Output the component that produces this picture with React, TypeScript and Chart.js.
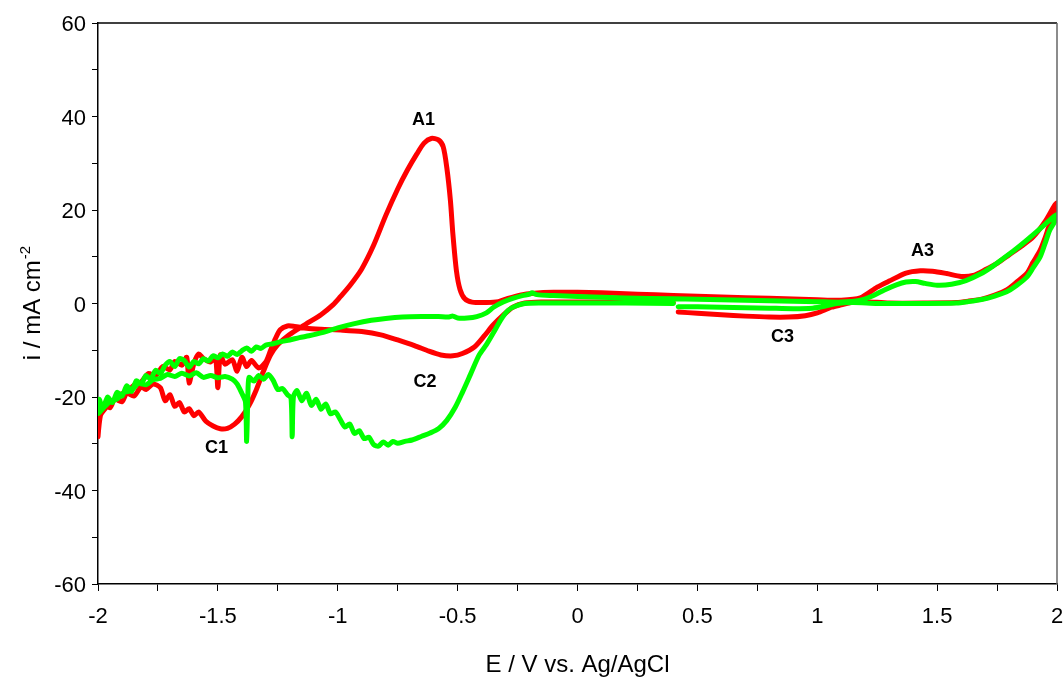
import React, { useEffect, useRef } from "react";
import { Chart, registerables } from "chart.js";

Chart.register(...registerables);

// Cyclic voltammograms: potential E (V vs. Ag/AgCl) and current density i (mA cm^-2),
// listed in scan order starting at 0.4 V and sweeping negative first.
const redE = [
  0.40, 0.2, 0.0, -0.15, -0.22, -0.27, -0.31, -0.35, -0.39, -0.43, -0.48, -0.52, -0.57, -0.62, -0.68,
  -0.75, -0.82, -0.9, -0.98, -1.07, -1.13, -1.18, -1.21, -1.24, -1.26, -1.28, -1.30, -1.33, -1.36,
  -1.38, -1.40, -1.42, -1.44, -1.47, -1.49, -1.50, -1.51, -1.53, -1.56, -1.58, -1.60, -1.62, -1.63,
  -1.65, -1.68, -1.70, -1.73, -1.76, -1.79, -1.82, -1.85, -1.88, -1.91, -1.94, -1.97, -1.99, -2.0,
  -1.99, -1.97, -1.95, -1.93, -1.9, -1.88, -1.85, -1.82, -1.8, -1.77, -1.74, -1.72, -1.7, -1.68,
  -1.66, -1.64, -1.62, -1.6, -1.58, -1.55, -1.52, -1.49, -1.46, -1.43, -1.40, -1.37, -1.34, -1.31,
  -1.28, -1.25, -1.21, -1.17, -1.12, -1.07, -1.02, -0.99, -0.95, -0.9, -0.85, -0.8, -0.75, -0.71,
  -0.67, -0.64, -0.61, -0.58, -0.56, -0.545, -0.53, -0.52, -0.505, -0.49, -0.47, -0.44, -0.38, -0.33,
  -0.29, -0.24, -0.18, -0.1, 0.0, 0.1, 0.25, 0.4, 0.6, 0.8, 1.0, 1.1, 1.18, 1.25, 1.3, 1.37, 1.43,
  1.48, 1.54, 1.6, 1.65, 1.7, 1.75, 1.8, 1.85, 1.9, 1.95, 1.99, 2.0,
  1.99, 1.97, 1.95, 1.93, 1.9, 1.875, 1.83, 1.79, 1.74, 1.69, 1.63, 1.58, 1.45, 1.3, 1.2, 1.15, 1.1,
  1.06, 1.0, 0.95, 0.88, 0.8, 0.7, 0.6, 0.5, 0.42,
];
const redI = [
  0.2, 0.3, 0.3, 0.3, 0.1, -0.8, -2.5, -4.5, -7, -9.3, -10.7, -11.2, -11, -10.2, -9,
  -7.8, -6.7, -6, -5.7, -5.5, -5.3, -4.9, -4.8, -5.6, -7.5, -10, -12.5, -13.8, -12.2,
  -13.5, -11.5, -14.5, -12, -13, -11, -18, -11.5, -12.5, -11.8, -10.8, -12.8, -17, -11.5,
  -13.2, -12.4, -14.2, -13.5, -15.5, -15, -16.8, -17.5, -19, -19.5, -21, -22.5, -24, -28.5,
  -24, -21.5, -22.3, -20.5, -21, -19.2, -19.8, -17.8, -18.4, -17.2, -18, -20.8, -19.5, -22,
  -21.2, -23.2, -22.5, -24, -23.2, -25.2, -26.2, -26.8, -26.7, -25.8, -24.2, -21.8, -18.5, -14.5,
  -11, -8.8, -7, -5.6, -4, -2.4, -0.3, 1.4, 3.8, 7.4, 12.5, 18.8, 24.5, 28.5,
  32, 34.3, 35.3, 35, 33.5, 29, 22, 15, 7, 3, 1, 0.3, 0.2, 0.4,
  1.1, 1.8, 2.2, 2.4, 2.4, 2.3, 2.0, 1.7, 1.4, 1.1, 0.8, 0.7, 1.2, 3.5, 4.8, 6.5, 7.0,
  6.9, 6.4, 5.8, 6.0, 7.2, 8.6, 10.4, 12.2, 14.2, 17.5, 21, 21.5,
  19, 17, 14, 11.4, 8.8, 6.5, 4.5, 2.9, 1.8, 1.0, 0.5, 0.2, 0.1, 0.1, 0.4, 0.3, -0.3,
  -0.8, -2.0, -2.6, -2.9, -2.9, -2.7, -2.4, -2.1, -1.8,
];

const greenE = [
  0.40, 0.2, 0.0, -0.15, -0.22, -0.26, -0.29, -0.32, -0.35, -0.38, -0.41, -0.445, -0.48, -0.51,
  -0.545, -0.58, -0.615, -0.65, -0.69, -0.72, -0.75, -0.77, -0.79, -0.81, -0.83, -0.85, -0.87,
  -0.89, -0.91, -0.93, -0.95, -0.97, -0.99, -1.01, -1.03, -1.05, -1.07, -1.09, -1.11, -1.13, -1.15,
  -1.17, -1.185, -1.19, -1.195, -1.21, -1.23, -1.25, -1.27, -1.29, -1.31, -1.33, -1.35, -1.37,
  -1.375, -1.38, -1.385, -1.40, -1.42, -1.44, -1.47, -1.50, -1.53, -1.56, -1.59, -1.62, -1.65,
  -1.68, -1.71, -1.74, -1.77, -1.8, -1.83, -1.86, -1.89, -1.92, -1.95, -1.98, -2.0,
  -1.995, -1.98, -1.96, -1.94, -1.92, -1.9, -1.88, -1.86, -1.84, -1.82, -1.8, -1.78, -1.76, -1.74,
  -1.72, -1.7, -1.68, -1.66, -1.64, -1.62, -1.6, -1.58, -1.56, -1.54, -1.52, -1.5, -1.48, -1.46,
  -1.44, -1.42, -1.4, -1.38, -1.36, -1.34, -1.32, -1.3, -1.27, -1.24, -1.2, -1.16, -1.12, -1.07,
  -1.0, -0.93, -0.86, -0.8, -0.73, -0.65, -0.58, -0.54, -0.52, -0.5, -0.46, -0.42, -0.38, -0.35,
  -0.31, -0.27, -0.23, -0.2, -0.19, -0.17, -0.1, 0.0, 0.2, 0.4, 0.6, 0.8, 1.0, 1.1, 1.18, 1.23,
  1.28, 1.33, 1.37, 1.41, 1.45, 1.5, 1.56, 1.62, 1.68, 1.73, 1.78, 1.83, 1.88, 1.93, 1.98, 2.0,
  1.99, 1.97, 1.95, 1.93, 1.9, 1.875, 1.83, 1.79, 1.74, 1.69, 1.63, 1.58, 1.4, 1.25, 1.15, 1.08,
  1.03, 0.98, 0.9, 0.8, 0.7, 0.6, 0.5, 0.42,
];
const greenI = [
  0.0, 0.1, 0.1, 0.1, 0.0, -0.6, -1.5, -3.5, -6.2, -8.8, -11, -15, -19, -22.2,
  -25, -26.8, -27.7, -28.4, -29.2, -29.5, -29.9, -29.5, -30.3, -29.6, -30.5, -30.2, -28.6,
  -28.9, -27.2, -27.8, -25.8, -26.4, -24.8, -23.2, -23.6, -21.5, -22.6, -20.5, -21.8, -19.2, -20.8,
  -18.6, -20, -28.5, -20.2, -19.5, -18.2, -18.4, -16.4, -15.2, -16.2, -15.4, -16.6, -15.8,
  -20, -29.5, -21, -19.2, -17.2, -16.2, -15.6, -15.9, -15.4, -15.8, -14.8, -15.5, -14.9,
  -15.6, -15.2, -16, -16.3, -17.4, -17, -18.6, -19, -20.4, -21, -22.5, -23.5,
  -20.5, -22.5, -20, -21.2, -19, -19.8, -17.6, -18.8, -16.5, -17.2, -15.4, -16.2, -14.3, -15,
  -13.2, -12.4, -13.5, -11.8, -12.2, -13.6, -12.4, -12.9, -11.8, -12.3, -11.2, -11.6, -10.8, -11.3,
  -10.4, -10.9, -10.1, -9.5, -10.2, -9.3, -9.6, -8.9, -8.6, -8.2, -7.8, -7.3, -6.9, -6.3,
  -5.2, -4.3, -3.6, -3.2, -2.9, -2.8, -2.8, -2.9, -2.7, -3.1, -3.1, -2.8, -2.0, -0.8,
  0.3, 1.1, 1.7, 2.0, 2.3, 1.9, 1.7, 1.5, 1.2, 1.0, 0.8, 0.6, 0.4, 0.3, 0.7, 1.6,
  2.9, 4.0, 4.6, 4.7, 4.3, 3.9, 4.1, 4.9, 6.3, 7.9, 9.8, 11.7, 13.8, 16, 18.3, 19,
  17.5, 15.7, 12.8, 10, 7.6, 5.7, 3.8, 2.5, 1.6, 0.9, 0.4, 0.1, 0.0, 0.0, 0.2, 0.0,
  -0.6, -1.0, -1.1, -1.0, -0.9, -0.8, -0.7, -0.7,
];

const xTicks = [-2, -1.5, -1, -0.5, 0, 0.5, 1, 1.5, 2];
const yTicks = [-60, -40, -20, 0, 20, 40, 60];

const peakNames = ["A1", "C1", "C2", "A3", "C3"];
const peakNameE = [-0.642, -1.506, -0.636, 1.439, 0.855];
const peakNameI = [39.3, -31.0, -16.7, 11.2, -7.1];

const xTitle = "E / V vs. Ag/AgCl";
const yTitleMain = "i / mA cm";
const yTitleSup = "-2";

const FONT = '"Liberation Sans", Arial, Helvetica, sans-serif';

const toPoints = (xs: number[], ys: number[]) => xs.map((x, k) => ({ x, y: ys[k] }));

const decorations = {
  id: "cvDecorations",
  afterDraw(chart: any) {
    const { ctx, chartArea: a } = chart;
    const xs = chart.scales.x;
    const ys = chart.scales.y;
    ctx.save();

    // frame: top edge and right edge of the plot box
    ctx.lineWidth = 1.5;
    ctx.strokeStyle = "#000";
    ctx.beginPath();
    ctx.moveTo(a.left, a.top);
    ctx.lineTo(a.right, a.top);
    ctx.stroke();
    ctx.strokeStyle = "#666";
    ctx.beginPath();
    ctx.moveTo(a.right, a.top);
    ctx.lineTo(a.right, a.bottom);
    ctx.stroke();

    ctx.fillStyle = "#000";
    ctx.font = `22px ${FONT}`;

    // x tick labels
    ctx.textAlign = "center";
    ctx.textBaseline = "alphabetic";
    xTicks.forEach((v) => {
      ctx.fillText(String(v), xs.getPixelForValue(v), 623);
    });

    // y tick labels
    ctx.textAlign = "right";
    yTicks.forEach((v) => {
      ctx.fillText(String(v), 86, ys.getPixelForValue(v) + 8);
    });

    // x title
    ctx.font = `24px ${FONT}`;
    ctx.textAlign = "center";
    ctx.fillText(xTitle, (a.left + a.right) / 2, 672);

    // y title with superscript
    ctx.save();
    ctx.translate(40, (a.top + a.bottom) / 2);
    ctx.rotate(-Math.PI / 2);
    ctx.textAlign = "left";
    ctx.font = `24px ${FONT}`;
    const wMain = ctx.measureText(yTitleMain).width;
    ctx.font = `15px ${FONT}`;
    const wSup = ctx.measureText(yTitleSup).width;
    const start = -(wMain + wSup) / 2;
    ctx.font = `24px ${FONT}`;
    ctx.fillText(yTitleMain, start, 0);
    ctx.font = `15px ${FONT}`;
    ctx.fillText(yTitleSup, start + wMain + 1, -10);
    ctx.restore();

    // peak labels
    ctx.font = `bold 18px ${FONT}`;
    ctx.textAlign = "center";
    ctx.textBaseline = "middle";
    peakNames.forEach((name, k) => {
      ctx.fillText(name, xs.getPixelForValue(peakNameE[k]), ys.getPixelForValue(peakNameI[k]));
    });

    ctx.restore();
  },
};

export default function App() {
  const canvasRef = useRef<HTMLCanvasElement | null>(null);

  useEffect(() => {
    document.body.style.margin = "0";
    const canvas = canvasRef.current;
    if (!canvas) return;

    const lineStyle = {
      showLine: true,
      pointRadius: 0,
      pointHoverRadius: 0,
      borderWidth: 5,
      tension: 0.25,
      fill: false,
      borderJoinStyle: "round" as const,
      borderCapStyle: "round" as const,
    };

    const chart = new Chart(canvas, {
      type: "scatter",
      data: {
        datasets: [
          { ...lineStyle, label: "green", data: toPoints(greenE, greenI), borderColor: "#00ff00", order: 1 },
          { ...lineStyle, label: "red", data: toPoints(redE, redI), borderColor: "#ff0000", order: 2 },
        ],
      },
      options: {
        responsive: false,
        animation: false,
        layout: { padding: { left: 0, right: 7, top: 23, bottom: 0 } },
        plugins: { legend: { display: false }, tooltip: { enabled: false } },
        scales: {
          x: {
            type: "linear",
            min: -2,
            max: 2,
            ticks: { stepSize: 0.25, display: false },
            grid: { display: true, drawOnChartArea: false, drawTicks: true, tickLength: 7, color: "#000", lineWidth: 1 },
            border: { display: true, color: "#000", width: 1.5 },
            afterFit: (s: any) => {
              s.height = 94;
            },
          },
          y: {
            type: "linear",
            min: -60,
            max: 60,
            ticks: { stepSize: 10, display: false },
            grid: { display: true, drawOnChartArea: false, drawTicks: true, tickLength: 6, color: "#000", lineWidth: 1 },
            border: { display: true, color: "#000", width: 1.5 },
            afterFit: (s: any) => {
              s.width = 98;
            },
          },
        },
      },
      plugins: [decorations],
    });

    return () => chart.destroy();
  }, []);

  return (
    <div style={{ width: 1064, height: 678, background: "#fff" }}>
      <canvas ref={canvasRef} width={1064} height={678} style={{ display: "block" }} />
    </div>
  );
}
